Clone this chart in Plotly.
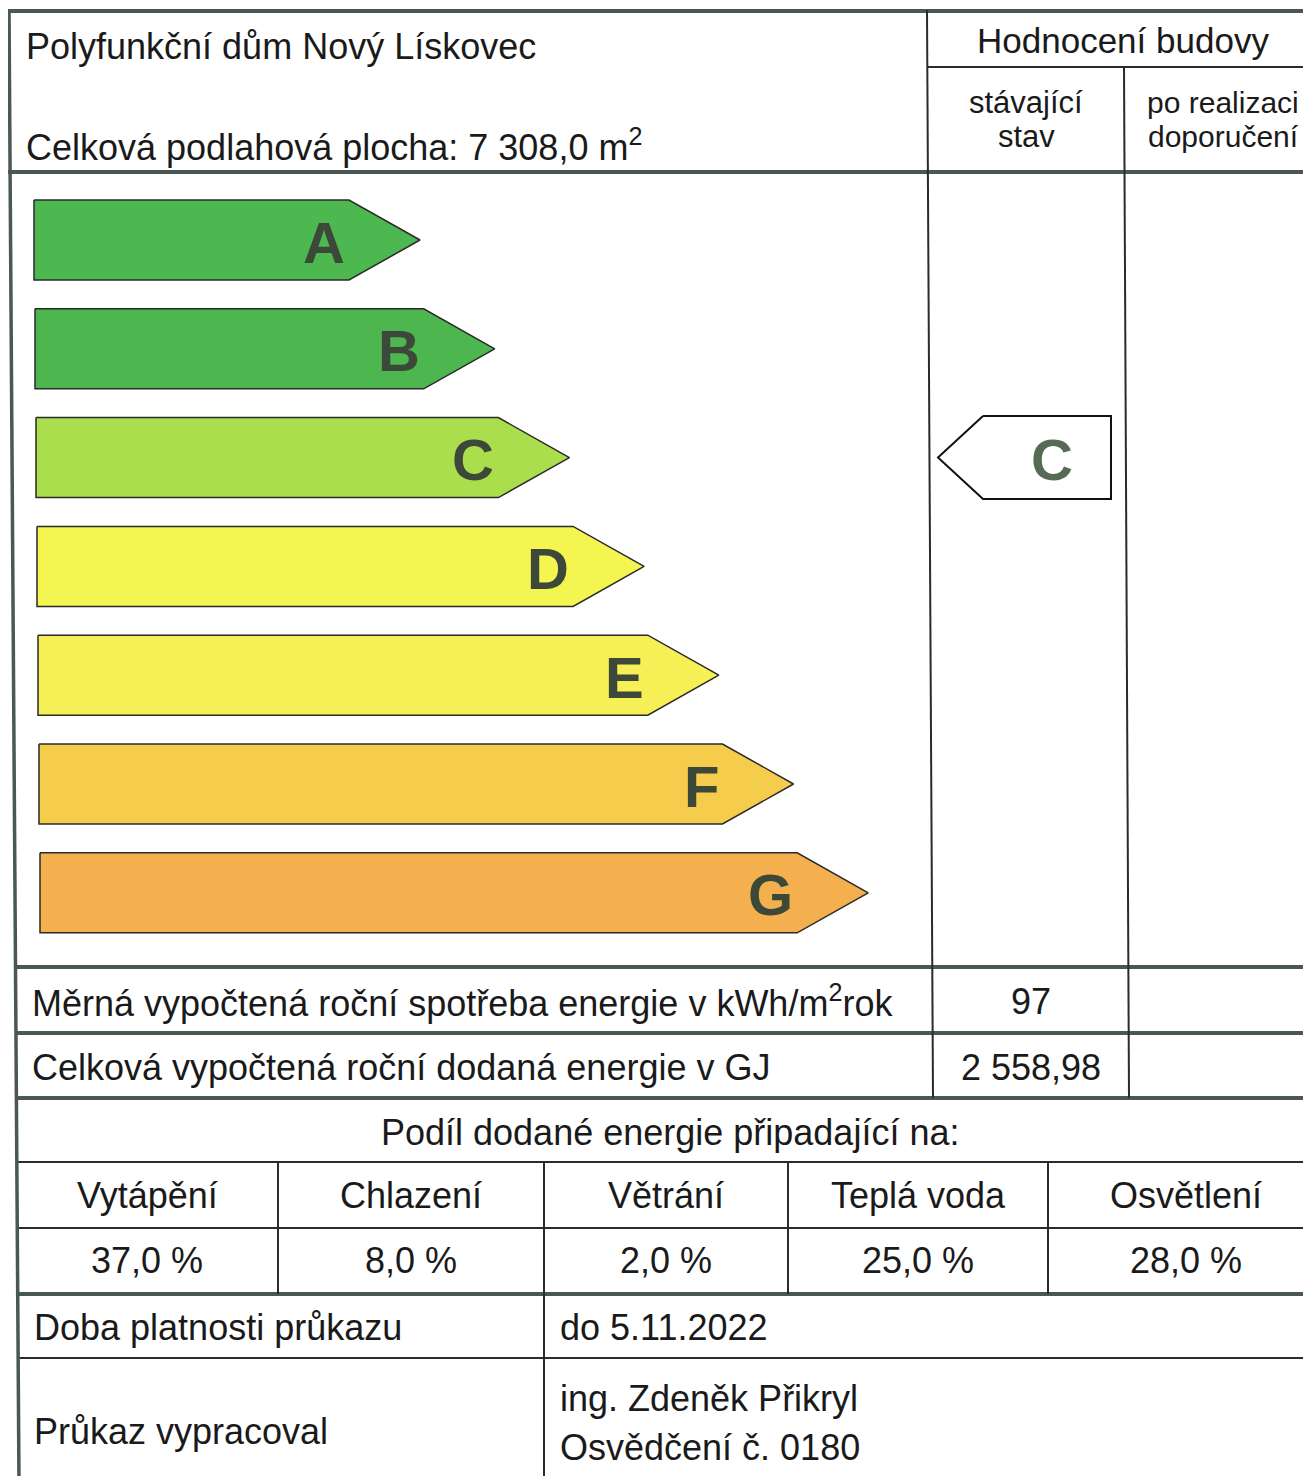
import plotly.graph_objects as go

# ---------------- data ----------------
title_building = "Polyfunkční dům Nový Lískovec"
floor_area_label = "Celková podlahová plocha: 7 308,0 m<sup>2</sup>"
rating_header = "Hodnocení budovy"
col_current = ["stávající", "stav"]
col_after = ["po realizaci", "doporučení"]

classes = ["A", "B", "C", "D", "E", "F", "G"]
class_colors = ["#4db84f", "#4db64e", "#aade4c", "#f5f552", "#f6ef55", "#f6cc4c", "#f4b04e"]
current_class = "C"

row_labels = ["Měrná vypočtená roční spotřeba energie v kWh/m<sup>2</sup>rok",
              "Celková vypočtená roční dodaná energie v GJ"]
row_values = ["97", "2 558,98"]

share_title = "Podíl dodané energie připadající na:"
share_categories = ["Vytápění", "Chlazení", "Větrání", "Teplá voda", "Osvětlení"]
share_values = [37.0, 8.0, 2.0, 25.0, 28.0]

validity_label = "Doba platnosti průkazu"
validity_value = "do 5.11.2022"
author_label = "Průkaz vypracoval"
author_value = ["ing. Zdeněk Přikryl", "Osvědčení č. 0180"]

# ---------------- layout constants ----------------
W, H = 1311, 1484
OFF = 8  # the page body margin
FONT = "Liberation Sans, Arial, sans-serif"
TXT = "#1a1a1a"
THICK = "#4a5853"
THIN = "#2b2b2b"
FS = 36

fig = go.Figure()

# ---- energy class arrows ----
row0, row_step, bar_h = 240.0, 108.8, 80.0
tip0, tip_step, tip_len = 420.0, 74.7, 71.0
for i, (cls, col) in enumerate(zip(classes, class_colors)):
    yc = row0 + i * row_step
    left = 34 + i * 1.0
    tip = tip0 + i * tip_step
    rend = tip - tip_len
    xs = [left, rend, tip, rend, left, left]
    ys = [yc - bar_h / 2, yc - bar_h / 2, yc, yc + bar_h / 2, yc + bar_h / 2, yc - bar_h / 2]
    fig.add_trace(go.Scatter(x=xs, y=ys, mode="lines", fill="toself", fillcolor=col,
                             line=dict(color="#2a2a2a", width=1.5), hoverinfo="skip",
                             showlegend=False))
    fig.add_annotation(x=rend - 2, y=yc + 2, text="<b>%s</b>" % cls, showarrow=False,
                       xanchor="right", yanchor="middle",
                       font=dict(family=FONT, size=58, color="#3c4838"))

# ---- current rating marker ----
ci = classes.index(current_class)
yc = row0 + ci * row_step
mh = 83.0
mx_tip, mx_corner, mx_right = 938, 983, 1111
fig.add_trace(go.Scatter(x=[mx_corner, mx_right, mx_right, mx_corner, mx_tip, mx_corner],
                         y=[yc - mh / 2, yc - mh / 2, yc + mh / 2, yc + mh / 2, yc, yc - mh / 2],
                         mode="lines", fill="toself", fillcolor="white",
                         line=dict(color="#111111", width=2), hoverinfo="skip", showlegend=False))
fig.add_annotation(x=1052, y=yc + 2, text="<b>%s</b>" % current_class, showarrow=False,
                   xanchor="center", yanchor="middle",
                   font=dict(family=FONT, size=58, color="#566a55"))

# ---- table lines ----
shapes = []
def hline(x0, x1, y, w, c):
    shapes.append(dict(type="line", xref="x", yref="y", x0=x0, x1=x1, y0=y, y1=y,
                       line=dict(color=c, width=w)))
def vline(x0, y0, x1, y1, w, c):
    shapes.append(dict(type="line", xref="x", yref="y", x0=x0, x1=x1, y0=y0, y1=y1,
                       line=dict(color=c, width=w)))

hline(8, W, 11, 4, THICK)
hline(928, W, 67, 2, THIN)
hline(8, W, 172, 4, THICK)
hline(14, W, 967, 4, THICK)
hline(16, W, 1033, 4, THICK)
hline(16, W, 1098, 4, THICK)
hline(16, W, 1162, 2, THIN)
hline(16, W, 1228, 2, THIN)
hline(16, W, 1294, 4, THICK)
hline(18, W, 1358, 2, THIN)

# left border (slightly skewed like the scan)
vline(9, 10, 19, H, 3.5, THICK)
# rating column separators
vline(927, 10, 933, 1098, 2, THIN)
vline(1124, 67, 1129, 1098, 2, THIN)
# share table dividers
for xd in [278, 544, 788, 1048]:
    vline(xd, 1162, xd, 1294, 2, THIN)
vline(544, 1294, 544, H, 2, THIN)

# ---- texts ----
def txt(x, y, s, size=FS, xanchor="left", color=TXT):
    fig.add_annotation(x=x, y=y, text=s, showarrow=False, xanchor=xanchor, yanchor="middle",
                       font=dict(family=FONT, size=size, color=color))

txt(24, 46, title_building)
txt(24, 145, floor_area_label)
txt(1123, 40, rating_header, 35, "center")
for j, (a, b) in enumerate(zip(col_current, col_after)):
    y = 102 + j * 34
    txt(1026, y, a, 31, "center")
    txt(1223, y, b, 30, "center")

for k, (lab, val) in enumerate(zip(row_labels, row_values)):
    y = 1001 + k * 66
    txt(30, y, lab)
    txt(1031, y, val, FS, "center")

txt(670, 1132, share_title, FS, "center")
share_centers = [147, 411, 666, 918, 1186]
for xc, cat, v in zip(share_centers, share_categories, share_values):
    txt(xc, 1195, cat, FS, "center")
    txt(xc, 1260, ("%.1f %%" % v).replace(".", ","), FS, "center")

txt(32, 1327, validity_label)
txt(558, 1327, validity_value)
txt(32, 1431, author_label)
for j, line in enumerate(author_value):
    txt(558, 1398 + j * 49, line)

fig.update_layout(
    width=W - 2 * OFF, height=H - 2 * OFF, margin=dict(l=0, r=0, t=0, b=0),
    paper_bgcolor="white", plot_bgcolor="white",
    xaxis=dict(range=[OFF, W - OFF], visible=False, fixedrange=True),
    yaxis=dict(range=[H - OFF, OFF], visible=False, fixedrange=True),
    shapes=shapes, showlegend=False,
)
fig.write_html("out.html")
